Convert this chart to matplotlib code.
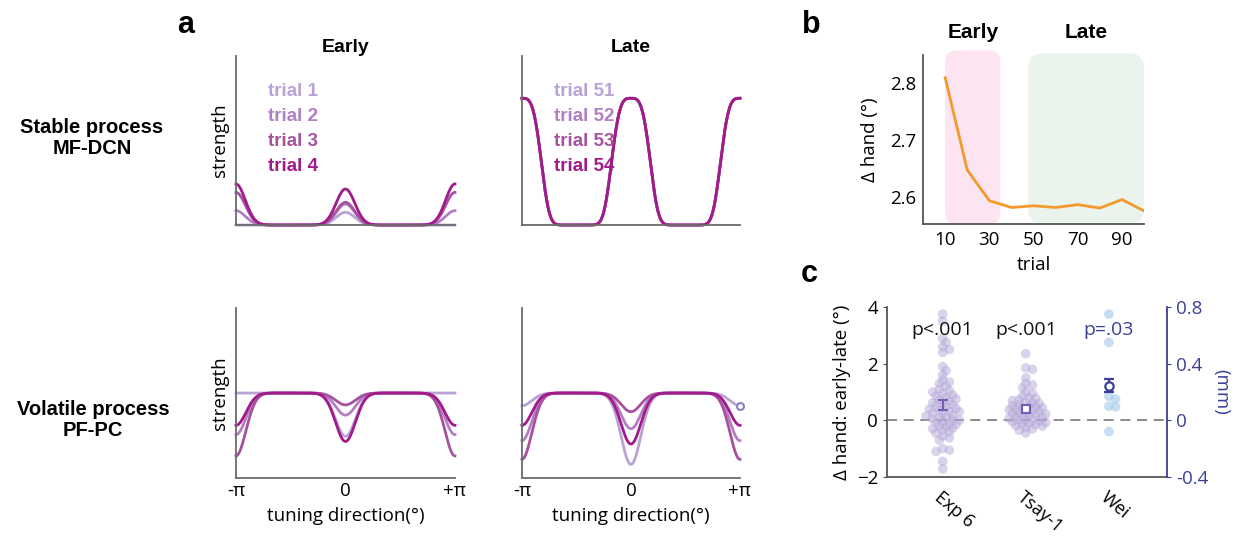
import numpy as np
import matplotlib.pyplot as plt
from matplotlib.patches import FancyBboxPatch

# ---- panel a: tuning curve amplitudes (axis height = 1) ----
trial_colors = ['#b9a3d6', '#b27fc3', '#a6529f', '#a11b8b']
early_labels = ['trial 1', 'trial 2', 'trial 3', 'trial 4']
late_labels = ['trial 51', 'trial 52', 'trial 53', 'trial 54']

# stable process (peaks at 0 and at the +/-pi edges)
stable_early_center = [0.075, 0.124, 0.134, 0.213]
stable_early_edge = [0.0, 0.085, 0.193, 0.243]
stable_late_center = [0.75, 0.75, 0.75, 0.75]
stable_late_edge = [0.75, 0.75, 0.75, 0.75]

# volatile process (plateau with dips at 0 and at the edges; values = minima)
plateau = 0.5
volatile_early_center = [0.245, 0.37, 0.43, 0.215]
volatile_early_edge = [0.5, 0.255, 0.13, 0.31]
volatile_late_center = [0.08, 0.29, 0.39, 0.20]
volatile_late_edge = [0.425, 0.22, 0.11, 0.31]

# ---- panel b ----
trials = [10, 20, 30, 40, 50, 60, 70, 80, 90, 100]
hand_err = [2.810, 2.648, 2.594, 2.582, 2.585, 2.582, 2.587, 2.581, 2.596, 2.576]

# ---- panel c ----
groups = ['Exp 6', 'Tsay-1', 'Wei']
exp6 = [3.75, 3.5, 2.9, 2.75, 2.6, 2.5, 2.4, 1.9, 1.75, 1.6, 1.42, 1.35, 1.3, 1.2,
        1.1, 1.05, 1.0, 0.95, 0.9, 0.85, 0.8, 0.75, 0.72, 0.68, 0.62, 0.58, 0.55,
        0.5, 0.45, 0.42, 0.4, 0.35, 0.32, 0.3, 0.25, 0.22, 0.18, 0.15, 0.1, 0.08,
        0.05, 0.02, 0.0, -0.05, -0.08, -0.1, -0.15, -0.2, -0.22, -0.28, -0.3,
        -0.35, -0.4, -0.45, -0.55, -0.62, -0.7, -1.0, -1.05, -1.1, -1.45, -1.72]
tsay = [2.35, 1.85, 1.8, 1.5, 1.3, 1.25, 1.15, 1.0, 0.95, 0.85, 0.8, 0.78, 0.72,
        0.7, 0.65, 0.62, 0.6, 0.55, 0.52, 0.5, 0.48, 0.45, 0.42, 0.4, 0.38, 0.35,
        0.32, 0.3, 0.28, 0.25, 0.22, 0.2, 0.18, 0.15, 0.12, 0.1, 0.08, 0.05, 0.02,
        0.0, -0.02, -0.05, -0.08, -0.1, -0.12, -0.15, -0.18, -0.2, -0.25, -0.3,
        -0.35, -0.45]
wei_mm = [0.75, 0.55, 0.17, 0.15, 0.10, 0.095, -0.08]
means = [0.55, 0.40]
errs_lo = [0.38, 0.32]
errs_hi = [0.72, 0.48]
wei_mean, wei_lo, wei_hi = 0.24, 0.20, 0.29
pvals = ['p<.001', 'p<.001', 'p=.03']

SANS = ['Open Sans', 'DejaVu Sans']
BOLD = ['Liberation Sans', 'DejaVu Sans']
NARROW = ['Liberation Sans Narrow', 'Liberation Sans', 'DejaVu Sans']
SPINE = '#6b6b6b'
NAVY = '#3c3f98'
FS = 13.5

plt.rcParams['font.family'] = SANS


def bump(d, w, p):
    return np.exp(-np.abs(d / w) ** p)


def tuning(center, edge, w, p):
    d = np.linspace(-np.pi, np.pi, 600)
    edges = bump(d + np.pi, w, p) + bump(d - np.pi, w, p)
    return d, center * bump(d, w, p) + edge * edges


def style_a(ax, bottom_row):
    for s in ['top', 'right']:
        ax.spines[s].set_visible(False)
    for s in ['left', 'bottom']:
        ax.spines[s].set_color(SPINE)
        ax.spines[s].set_linewidth(1.3)
    ax.set_xlim(-np.pi, np.pi)
    ax.set_ylim(0, 1)
    ax.set_yticks([])
    if bottom_row:
        ax.set_xticks([-np.pi, 0, np.pi])
        ax.set_xticklabels(['-π', '0', '+π'], fontsize=FS)
        ax.tick_params(axis='x', length=0, pad=3)
        ax.set_xlabel('tuning direction(°)', fontsize=FS, labelpad=5)
    else:
        ax.set_xticks([])


fig = plt.figure(figsize=(12.38, 5.40), dpi=100)

ax_tl = fig.add_axes([0.1906, 0.5833, 0.1769, 0.313])
ax_tr = fig.add_axes([0.4216, 0.5833, 0.1761, 0.313])
ax_bl = fig.add_axes([0.1906, 0.1148, 0.1769, 0.3148])
ax_br = fig.add_axes([0.4216, 0.1148, 0.1761, 0.3148])

for i in range(4):
    x, y = tuning(stable_early_center[i], stable_early_edge[i], 0.38, 2)
    ax_tl.plot(x, y, color=trial_colors[i], lw=2, clip_on=False)
    x, y = tuning(stable_late_center[i], stable_late_edge[i], 0.62, 3.5)
    ax_tr.plot(x, y, color=trial_colors[i], lw=2, clip_on=False)

    x, y = tuning(plateau - volatile_early_center[i],
                  plateau - volatile_early_edge[i], 0.4, 2)
    ax_bl.plot(x, plateau - y, color=trial_colors[i], lw=2, clip_on=False)
    x, y = tuning(plateau - volatile_late_center[i],
                  plateau - volatile_late_edge[i], 0.4, 2)
    ax_br.plot(x, plateau - y, color=trial_colors[i], lw=2, clip_on=False)

ax_br.plot([np.pi], [volatile_late_edge[0]], 'o', ms=5, mfc='white',
           mec='#8f7cc4', mew=1.5, clip_on=False, zorder=5)

style_a(ax_tl, False)
style_a(ax_tr, False)
style_a(ax_bl, True)
style_a(ax_br, True)
ax_tl.set_ylabel('strength', fontsize=FS, labelpad=5)
ax_bl.set_ylabel('strength', fontsize=FS, labelpad=5)

for ax, labels in [(ax_tl, early_labels), (ax_tr, late_labels)]:
    for i, lab in enumerate(labels):
        ax.text(0.145, 0.79 - i * 0.148, lab, transform=ax.transAxes,
                color=trial_colors[i], fontsize=13.5, fontweight='bold',
                family=NARROW, va='center', ha='left')

ax_tl.set_title('Early', fontsize=14, fontweight='bold', family=BOLD, pad=3)
ax_tr.set_title('Late', fontsize=14, fontweight='bold', family=BOLD, pad=3)

fig.text(92 / 1238, 1 - 138 / 540, 'Stable process\nMF-DCN', ha='center',
         va='center', fontsize=14.5, fontweight='bold', family=BOLD,
         linespacing=1.1)
fig.text(93 / 1238, 1 - 420 / 540, 'Volatile process\nPF-PC', ha='center',
         va='center', fontsize=14.5, fontweight='bold', family=BOLD,
         linespacing=1.1)

# ---- panel b ----
ax_b = fig.add_axes([0.7456, 0.5852, 0.1785, 0.313])
ax_b.set_xlim(0, 100)
ax_b.set_ylim(2.553, 2.85)
asp = (0.297 / 169) / (100 / 221)
ax_b.add_patch(FancyBboxPatch((10, 2.553), 25, 0.305,
                              boxstyle='round,pad=0,rounding_size=5',
                              mutation_aspect=asp, fc='#fce5f1', ec='none',
                              clip_on=False, zorder=0))
ax_b.add_patch(FancyBboxPatch((47.5, 2.553), 52.5, 0.3,
                              boxstyle='round,pad=0,rounding_size=7',
                              mutation_aspect=asp, fc='#eaf4ec', ec='none',
                              clip_on=False, zorder=0))
ax_b.plot(trials, hand_err, color='#f39a2c', lw=2, zorder=3)
ax_b.set_xticks([10, 30, 50, 70, 90])
ax_b.set_yticks([2.6, 2.7, 2.8])
ax_b.set_yticklabels(['2.6', '2.7', '2.8'])
ax_b.tick_params(labelsize=FS, length=0, pad=5)
for s in ['top', 'right']:
    ax_b.spines[s].set_visible(False)
for s in ['left', 'bottom']:
    ax_b.spines[s].set_color('#555555')
    ax_b.spines[s].set_linewidth(1.3)
ax_b.set_xlabel('trial', fontsize=FS, labelpad=5)
ax_b.set_ylabel('Δ hand (°)', fontsize=FS, labelpad=8)
ax_b.text(22.5, 2.889, 'Early', ha='center', va='center', fontsize=15,
          fontweight='bold', family=BOLD)
ax_b.text(74, 2.889, 'Late', ha='center', va='center', fontsize=15,
          fontweight='bold', family=BOLD)

# ---- panel c ----
ax_c = fig.add_axes([0.7165, 0.1167, 0.2262, 0.3148])
ax_c.set_xlim(0.33, 3.7)
ax_c.set_ylim(-2, 4)
ax_r = ax_c.twinx()
ax_r.set_ylim(-0.4, 0.8)

px_x = 280 / (3.7 - 0.33)
px_y = 170 / 6.0


def swarm(vals, yscale, dmin=4.5, step=0.04):
    placed = []
    offs = []
    for v in vals:
        k = 0
        found = None
        while found is None:
            cand = [0.0] if k == 0 else [k * step, -k * step]
            for c in cand:
                if all(((c - o) * px_x) ** 2 + ((v - w) * yscale) ** 2 >= dmin ** 2
                       for o, w in placed):
                    found = c
                    break
            k += 1
        placed.append((found, v))
        offs.append(found)
    return np.array(offs)


dot_col = '#b5a8d8'
for gi, vals in enumerate([exp6, tsay]):
    offs = swarm(vals, px_y)
    ax_c.scatter(gi + 1 + offs, vals, s=48, color=dot_col, alpha=0.5,
                 edgecolors='none', zorder=2)
offs = swarm(wei_mm, 170 / 1.2)
ax_r.scatter(3 + offs, wei_mm, s=48, color='#a9cbea', alpha=0.65,
             edgecolors='none', zorder=2)

ax_c.axhline(0, color='#777777', lw=1.2, ls=(0, (6, 4)), zorder=1)
ax_c.errorbar([1], [means[0]], yerr=[[means[0] - errs_lo[0]], [errs_hi[0] - means[0]]],
              fmt='none', ecolor='#7a5db3', elinewidth=1.6, capsize=3.5,
              capthick=1.6, zorder=4)
ax_c.errorbar([2], [means[1]], yerr=[[means[1] - errs_lo[1]], [errs_hi[1] - means[1]]],
              fmt='s', ms=6, mfc='white', mec='#7a5db3', mew=1.6,
              ecolor='#7a5db3', elinewidth=1.6, capsize=0, zorder=4)
ax_r.errorbar([3], [wei_mean], yerr=[[wei_mean - wei_lo], [wei_hi - wei_mean]],
              fmt='o', ms=6, mfc='white', mec=NAVY, mew=1.6, ecolor=NAVY,
              elinewidth=1.6, capsize=3.5, capthick=1.6, zorder=4)

for gi, p in enumerate(pvals):
    col = NAVY if gi == 2 else '#111111'
    ax_c.text(gi + 1, 3.2, p, ha='center', va='center', fontsize=14, color=col,
              zorder=5)

ax_c.set_xticks([1, 2, 3])
ax_c.set_xticklabels(groups, rotation=-40, ha='left', rotation_mode='anchor',
                     fontsize=13)
ax_c.tick_params(axis='x', length=0, pad=8)
ax_c.set_yticks([-2, 0, 2, 4])
ax_c.tick_params(axis='y', labelsize=FS, length=3, color='#555555')
ax_c.set_ylabel('Δ hand: early-late (°)', fontsize=FS, labelpad=4)
ax_r.set_yticks([-0.4, 0, 0.4, 0.8])
ax_r.set_yticklabels(['-0.4', '0', '0.4', '0.8'])
ax_r.tick_params(axis='y', labelsize=FS, length=3, colors=NAVY)
ax_r.set_ylabel('(mm)', fontsize=FS, color=NAVY, rotation=270, labelpad=16)
for a in [ax_c, ax_r]:
    a.spines['top'].set_visible(False)
ax_c.spines['right'].set_visible(False)
ax_r.spines['left'].set_visible(False)
ax_r.spines['bottom'].set_visible(False)
ax_r.spines['right'].set_color(NAVY)
ax_r.spines['right'].set_linewidth(1.3)
for s in ['left', 'bottom']:
    ax_c.spines[s].set_color('#555555')
    ax_c.spines[s].set_linewidth(1.3)

# panel letters
fig.text(186 / 1238, 1 - 25 / 540, 'a', fontsize=22, fontweight='bold',
         family=BOLD, ha='center', va='center')
fig.text(811 / 1238, 1 - 25 / 540, 'b', fontsize=22, fontweight='bold',
         family=BOLD, ha='center', va='center')
fig.text(809 / 1238, 1 - 274 / 540, 'c', fontsize=22, fontweight='bold',
         family=BOLD, ha='center', va='center')

fig.savefig('out.png', dpi=100)
